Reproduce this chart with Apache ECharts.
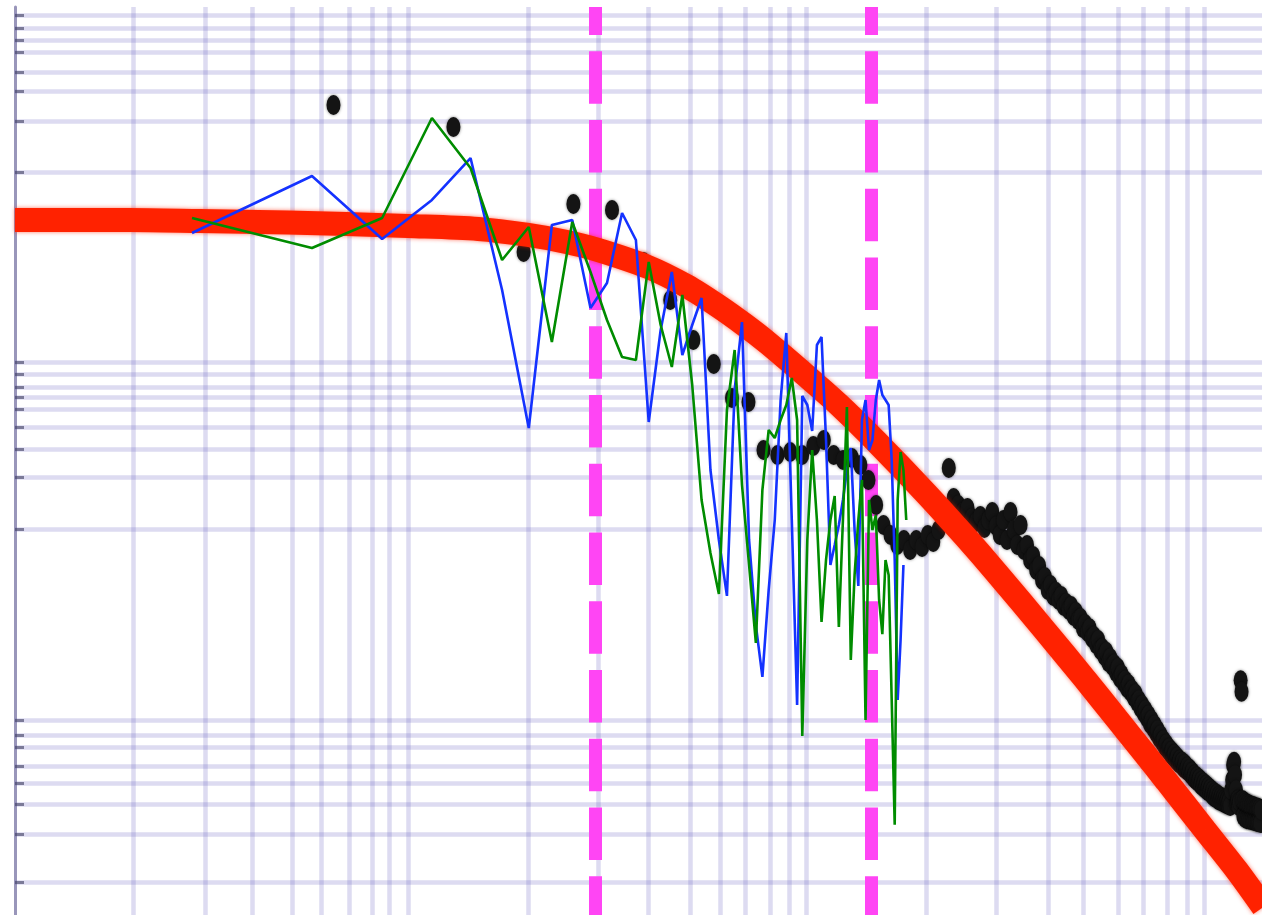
<!DOCTYPE html>
<html>
<head>
<meta charset="utf-8">
<script src="https://cdn.jsdelivr.net/npm/echarts@6.0.0/dist/echarts.min.js"></script>
<style>
  html, body { margin: 0; padding: 0; background: #ffffff; }
  #c { width: 1262px; height: 915px; }
</style>
</head>
<body>
<div id="c"></div>
<script>
// ---------- axis ranges (log-log) ----------
const X_MIN = 1.032, X_MAX = 1390;
const Y_MIN = 0.6516, Y_MAX = 85040;
const TICK_END = 1.087;

// ---------- grid (tick) values ----------
const xGridValues = [2.04, 3.09, 4.06, 5.12, 6.05, 7.11, 8.12, 8.96, 10,
  20, 30, 40, 51, 60.7, 70.1, 81, 90.4, 100,
  200, 300, 404, 494, 605, 699, 803, 901, 994];
const yGridValues = [76640, 64760, 55420, 47450, 36600, 28600, 19380, 10000,
  850.4, 727.8, 614.9, 540.0, 462.1, 366.0, 275.1, 191.3, 97.4,
  8.18, 6.73, 5.76, 4.50, 3.61, 2.75, 1.86, 1];

// ---------- fitting-range markers (frequency) ----------
const cutoffFreqs = [29.5, 145];

// ---------- Lorentzian fit (red) ----------
const fitFreq = [1.032, 2, 3, 5, 7, 10, 15, 20, 25, 30, 40, 50, 60, 70, 80, 100, 120, 150,
  200, 250, 300, 400, 500, 600, 700, 800, 1000, 1200, 1400];
const fitPower = [5365, 5365, 5295, 5194, 5093, 4964, 4775, 4417, 4033, 3636, 2916, 2279, 1758, 1374, 1088, 709, 493, 301.3,
  153.5, 88.3, 55.1, 25.5, 13.87, 8.33, 5.41, 3.71, 1.96, 1.167, 0.722];

// ---------- spectra: frequency bin widths ----------
const BIN_WIDTH_LINES = 2.87;   // blue / green spectra
const BIN_WIDTH_DOTS = 6.5;     // black spectrum

const blueSpectrum = [
  4532, 9495, 4194, 6955, 11990, 2164, 361.2, 5028, 5365, 1713,
  2369, 5875, 4140, 390.5, 1288, 2733, 931.1, 1374, 1950, 209.5,
  84.5, 40.9, 591.3, 1428, 84.5, 28.0, 14.3, 44.2, 109.5, 519.4,
  1239, 109.5, 9.94, 547.0, 486.8, 347.4, 1060, 1176, 309.2, 61.1,
  79.2, 102.6, 141.9, 209.5, 278.7, 96.2, 46.5, 400.8, 519.4, 271.6,
  309.2, 519.4, 673.4, 554.2, 519.4, 486.8, 238.5, 65.2, 10.6, 23.1,
  61.1];

const greenSpectrum = [
  5506, 3730, 5506, 20150, 10530, 3193, 4899, 1102, 5227, 2733,
  1466, 907.3, 872.6, 3112, 1374, 797.0, 2028, 631.0, 141.9, 71.4,
  41.9, 456.2, 993.6, 172.4, 61.1, 22.2, 161.6, 352.0, 317.3, 400.8,
  486.8, 691.0, 400.8, 6.65, 84.5, 271.6, 109.5, 29.2, 65.2, 109.5,
  149.5, 27.3, 109.5, 474.4, 17.8, 53.7, 109.5, 184.0, 8.18, 141.9,
  96.2, 116.8, 38.8, 24.9, 65.2, 53.7, 10.6, 2.10, 141.9, 264.5,
  209.5, 109.5];

const blackSpectrum = [
  23850, 17930, 3543, 6601, 6108, 3112, 1901, 1131, 828.5, 533.1,
  506.1, 271.6, 254.4, 264.6, 254.4, 286.0, 309.2, 254.4, 238.5, 244.7,
  223.6, 184.0, 133.0, 102.6, 90.1, 79.2, 84.5, 74.2, 84.5, 77.2,
  90.1, 82.3, 96.2, 109.5, 215.1, 145.7, 133.0, 121.5, 127.9, 112.3,
  106.7, 115.3, 98.7, 109.5, 121.5, 101.3, 90.1, 109.5, 84.5, 121.5,
  96.2, 79.2, 102.6, 74.2, 79.2, 65.2, 68.7, 57.2, 60.3, 50.3,
  52.3, 44.2, 47.1, 40.9, 43.1, 38.8, 40.9, 35.9, 37.3, 34.1,
  35.9, 31.5, 33.2, 29.9, 30.7, 26.9, 28.4, 25.6, 26.9, 23.7,
  24.3, 21.9, 23.1, 20.3, 20.8, 18.8, 19.8, 17.3, 18.3, 16.5,
  16.9, 15.2, 16.1, 14.1, 14.8, 13.3, 13.7, 12.4, 13.0, 11.8,
  12.1, 11.0, 11.5, 10.3, 10.6, 9.56, 9.94, 8.95, 9.31, 8.40,
  8.73, 7.77, 8.18, 7.37, 7.66, 6.91, 7.18, 6.47, 6.73, 6.15,
  6.31, 5.76, 5.99, 5.54, 5.68, 5.26, 5.47, 5.06, 5.26, 4.87,
  5.06, 4.68, 4.87, 4.56, 4.75, 4.39, 4.62, 4.28, 4.44, 4.17,
  4.33, 4.01, 4.17, 3.86, 4.01, 3.75, 3.91, 3.65, 3.81, 3.52,
  3.70, 3.43, 3.61, 3.34, 3.52, 3.26, 3.43, 3.22, 3.34, 3.09,
  3.26, 3.01, 3.17, 2.97, 3.13, 2.90, 3.05, 2.86, 3.01, 2.83,
  2.97, 2.79, 2.93, 2.75, 2.90, 2.72, 2.86, 2.68, 3.30, 3.75,
  4.56, 4.75, 4.01, 3.30, 2.75, 2.90, 2.68, 2.83, 13.7, 11.8,
  2.90, 2.35, 2.83, 2.29, 2.79, 2.26, 2.75, 2.26, 2.72, 2.24,
  2.68, 2.24, 2.68, 2.21, 2.65, 2.21, 2.62, 2.18, 2.62, 2.18,
  2.58, 2.15, 2.54, 2.15];

// ---------- build ----------
const binPairs = (width, vals) => vals.map((v, i) => [(i + 1) * width, v]);

const chart = echarts.init(document.getElementById('c'), null, { renderer: 'canvas', width: 1262, height: 915 });

const hiddenAxisParts = {
  axisTick: { show: false }, axisLabel: { show: false },
  splitLine: { show: false }, minorTick: { show: false }, minorSplitLine: { show: false }
};

const baseMarkLine = {
  silent: true, animation: false, symbol: ['none', 'none'], precision: 6,
  label: { show: false }, emphasis: { disabled: true }
};

const option = {
  animation: false,
  backgroundColor: '#ffffff',
  grid: { left: 15, right: 0, top: 7, bottom: 0, containLabel: false, outerBoundsMode: 'none' },
  xAxis: Object.assign({
    type: 'log', logBase: 10, min: X_MIN, max: X_MAX,
    axisLine: { show: false }
  }, hiddenAxisParts),
  yAxis: Object.assign({
    type: 'log', logBase: 10, min: Y_MIN, max: Y_MAX,
    axisLine: { show: true, lineStyle: { color: 'rgba(85,80,140,0.6)', width: 3 } }
  }, hiddenAxisParts),
  series: [
    {
      name: 'grid', type: 'line', data: [], silent: true,
      markLine: Object.assign({}, baseMarkLine, {
        z: 0,
        lineStyle: { color: 'rgba(100,90,190,0.22)', width: 4.5, type: 'solid' },
        data: xGridValues.map(v => ({ xAxis: v })).concat(yGridValues.map(v => ({ yAxis: v })))
      })
    },
    {
      name: 'fit range', type: 'line', data: [], silent: true,
      markLine: Object.assign({}, baseMarkLine, {
        z: 1,
        lineStyle: { color: '#ff45f4', width: 13, type: [52.5, 16.25], dashOffset: 13.75 },
        data: cutoffFreqs.map(v => ({ xAxis: v }))
      })
    },
    {
      name: 'spectrum', type: 'scatter', z: 2, silent: true,
      symbol: 'circle', symbolSize: [14, 20],
      itemStyle: { color: '#141414', opacity: 1, shadowBlur: 3, shadowColor: 'rgba(0,0,0,0.5)' },
      data: binPairs(BIN_WIDTH_DOTS, blackSpectrum)
    },
    {
      name: 'fit', type: 'line', z: 3, silent: true, smooth: 0.3,
      showSymbol: false, symbol: 'none',
      lineStyle: { color: '#ff2200', width: 24, shadowBlur: 4, shadowColor: 'rgba(255,34,0,0.6)' },
      data: fitFreq.map((f, i) => [f, fitPower[i]])
    },
    {
      name: 'blue', type: 'line', z: 4, silent: true,
      showSymbol: false, symbol: 'none',
      lineStyle: { color: '#1432ff', width: 2.6 },
      data: binPairs(BIN_WIDTH_LINES, blueSpectrum)
    },
    {
      name: 'green', type: 'line', z: 5, silent: true,
      showSymbol: false, symbol: 'none',
      lineStyle: { color: '#008c00', width: 2.6 },
      data: binPairs(BIN_WIDTH_LINES, greenSpectrum)
    },
    {
      name: 'ticks', type: 'line', data: [], silent: true,
      markLine: Object.assign({}, baseMarkLine, {
        z: 6,
        lineStyle: { color: 'rgba(70,70,105,0.65)', width: 3, type: 'solid' },
        data: yGridValues.map(v => [{ coord: [X_MIN, v] }, { coord: [TICK_END, v] }])
      })
    }
  ]
};

chart.setOption(option);
</script>
</body>
</html>
